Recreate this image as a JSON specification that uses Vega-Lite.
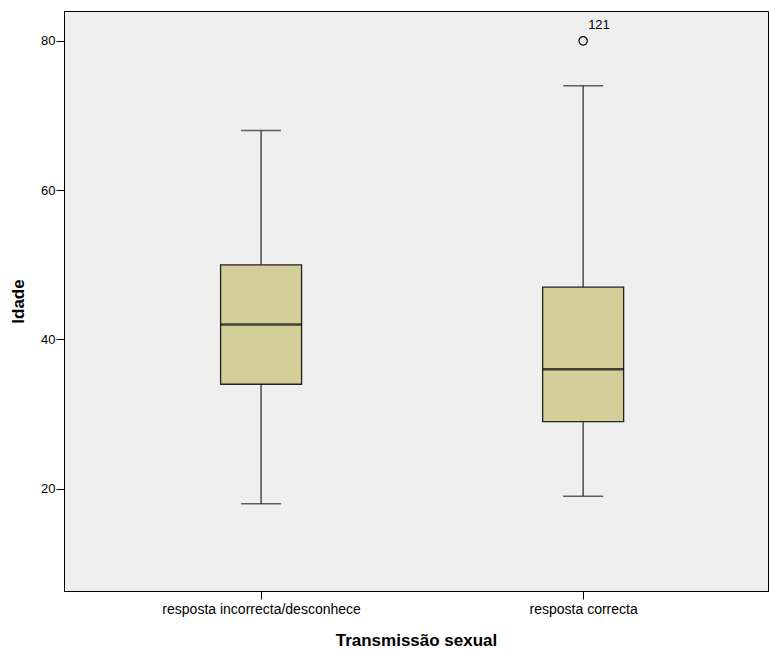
{
  "$schema": "https://vega.github.io/schema/vega-lite/v6.json",
  "width": 704,
  "height": 580,
  "autosize": "none",
  "padding": {"left": 64, "top": 11, "right": 1, "bottom": 61},
  "background": "white",
  "config": {
    "view": {"fill": "#EFEFEF", "stroke": "black", "strokeWidth": 1},
    "font": "Liberation Sans",
    "axis": {
      "labelFont": "Liberation Sans",
      "titleFont": "Liberation Sans",
      "labelFontSize": 13,
      "labelColor": "black",
      "labelLimit": 400,
      "titleFontSize": 17,
      "titleFontWeight": "bold",
      "titleColor": "black",
      "domainColor": "black",
      "tickColor": "black",
      "tickSize": 8,
      "grid": false
    }
  },
  "datasets": {
    "boxes": [
      {"grupo": "resposta incorrecta/desconhece", "low": 18, "q1": 34, "median": 42, "q3": 50, "high": 68},
      {"grupo": "resposta correcta", "low": 19, "q1": 29, "median": 36, "q3": 47, "high": 74}
    ],
    "outliers": [
      {"grupo": "resposta correcta", "idade": 80, "caso": "121"}
    ]
  },
  "encoding": {
    "x": {
      "field": "grupo",
      "type": "nominal",
      "sort": ["resposta incorrecta/desconhece", "resposta correcta"],
      "scale": {"type": "point", "padding": 0.593, "align": 0.516},
      "axis": {"title": "Transmissão sexual", "labelAngle": 0, "labelPadding": 3, "labelFontSize": 14, "titlePadding": 16}
    }
  },
  "layer": [
    {
      "data": {"name": "boxes"},
      "mark": {"type": "rule", "color": "#333333", "strokeWidth": 1.3},
      "encoding": {
        "y": {
          "field": "low",
          "type": "quantitative",
          "scale": {"domain": [6.3, 84], "nice": false, "zero": false},
          "axis": {"title": "Idade", "values": [20, 40, 60, 80], "labelPadding": 1, "titlePadding": 13}
        },
        "y2": {"field": "high"}
      }
    },
    {
      "data": {"name": "boxes"},
      "mark": {"type": "tick", "color": "#222222", "size": 40, "thickness": 1.5},
      "encoding": {"y": {"field": "low", "type": "quantitative"}}
    },
    {
      "data": {"name": "boxes"},
      "mark": {"type": "tick", "color": "#222222", "size": 40, "thickness": 1.5},
      "encoding": {"y": {"field": "high", "type": "quantitative"}}
    },
    {
      "data": {"name": "boxes"},
      "mark": {"type": "bar", "size": 81, "fill": "#D3CE98", "stroke": "#222222", "strokeWidth": 1.3},
      "encoding": {
        "y": {"field": "q1", "type": "quantitative"},
        "y2": {"field": "q3"}
      }
    },
    {
      "data": {"name": "boxes"},
      "mark": {"type": "tick", "color": "black", "size": 81, "thickness": 2.5},
      "encoding": {"y": {"field": "median", "type": "quantitative"}}
    },
    {
      "data": {"name": "outliers"},
      "mark": {"type": "point", "shape": "circle", "size": 70, "filled": false, "stroke": "black", "strokeWidth": 1.2, "opacity": 1},
      "encoding": {"y": {"field": "idade", "type": "quantitative"}}
    },
    {
      "data": {"name": "outliers"},
      "mark": {"type": "text", "align": "left", "baseline": "middle", "dx": 5, "dy": -16, "fontSize": 13, "color": "black"},
      "encoding": {
        "y": {"field": "idade", "type": "quantitative"},
        "text": {"field": "caso"}
      }
    }
  ]
}
